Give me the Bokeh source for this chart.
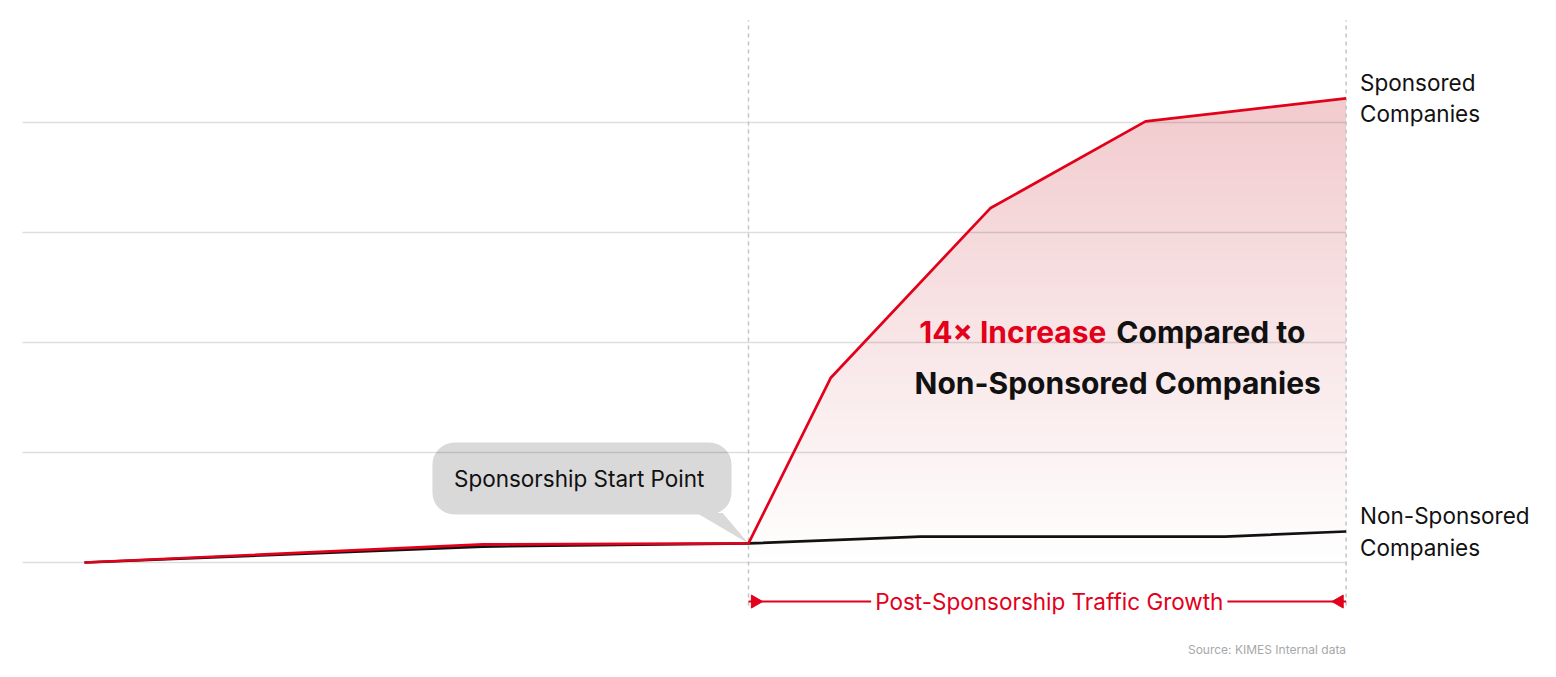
import numpy as np
from bokeh.plotting import figure
from bokeh.models import BoxAnnotation, Label
from bokeh.core.properties import value
from bokeh.embed import file_html
from bokeh.resources import INLINE

# ---- data (x: periods relative to sponsorship start, y: traffic index) ----
red_x = [-10, -4, 0, 1.24, 3.64, 5.98, 9]
red_y = [0, 16.4, 17.3, 168, 322, 401, 422]
black_x = [-10, -4, 0, 2.59, 7.18, 9]
black_y = [0, 14.5, 17.3, 23.6, 23.6, 28.2]
grid_vals = [0, 100, 200, 300, 400]

RED = "#e2001a"
BLACK = "#111111"
FONT = value("Inter")

PX = 66.4   # px per x unit
PY = 1.1    # px per y unit
W, H = 1550, 670
OX, OY = 0, 0   # page offset of the figure
x0 = (OX - 748) / PX
x1 = (OX + W - 748) / PX
y_top = (562 - OY) / PY
y_bot = -(OY + H - 562) / PY

p = figure(width=W, height=H, output_backend="svg", toolbar_location=None,
           x_range=(x0, x1), y_range=(y_bot, y_top),
           x_axis_type=None, y_axis_type=None, min_border=0)
p.outline_line_color = None
p.xgrid.visible = False
p.ygrid.visible = False
p.background_fill_color = "white"

# ---- gradient fill under sponsored line ----
N = 256
t = np.linspace(0.0, 1.0, N)
top = np.array([242, 203, 206])
cols = 255 - np.outer(t, 255 - top)
img = np.empty((N, 1), dtype=np.uint32)
view = img.view(dtype=np.uint8).reshape((N, 1, 4))
view[:, 0, 0] = cols[:, 0].astype(np.uint8)
view[:, 0, 1] = cols[:, 1].astype(np.uint8)
view[:, 0, 2] = cols[:, 2].astype(np.uint8)
view[:, 0, 3] = 255
p.image_rgba(image=[img], x=0, y=0, dw=red_x[-1], dh=max(red_y))
# mask above the red line
p.varea(x=red_x[2:], y1=red_y[2:], y2=y_top, fill_color="white")

# ---- speech bubble (behind grid lines) ----
p.add_layout(BoxAnnotation(left=-4.76, right=-0.256, top=109.1, bottom=43.6,
                           fill_color="#d9d9d9", fill_alpha=1, line_color=None,
                           border_radius=22, level="underlay"))
p.patch(x=[-0.78, -0.39, 0], y=[45, 45, red_y[2]], fill_color="#d9d9d9", line_color=None)

# ---- grid lines ----
gx0 = (22 - 748) / PX
p.segment(x0=[gx0] * len(grid_vals), y0=grid_vals, x1=[red_x[-1]] * len(grid_vals),
          y1=grid_vals, line_color="black", line_alpha=0.13, line_width=1.5)

# ---- dashed vertical markers ----
p.segment(x0=[0, red_x[-1]], y0=[-39, -39], x1=[0, red_x[-1]], y1=[493, 493],
          line_color="#c4c4c4", line_width=1.5, line_dash="4 4")

# ---- series lines ----
p.line(black_x, black_y, line_color=BLACK, line_width=2.7)
p.line(red_x, red_y, line_color=RED, line_width=2.7)

p.text(x=[-2.55], y=[76.4], text=["Sponsorship Start Point"], text_font=FONT,
       text_font_size="22.5px", text_color=BLACK, text_align="center", text_baseline="middle")

# ---- series labels ----
p.text(x=[red_x[-1]], y=[red_y[-1]], text=["Sponsored\nCompanies"], x_offset=14,
       text_font=FONT, text_font_size="22.5px", text_color=BLACK,
       text_align="left", text_baseline="middle", text_line_height=1.16)
p.text(x=[black_x[-1]], y=[black_y[-1]], text=["Non-Sponsored\nCompanies"], x_offset=14,
       text_font=FONT, text_font_size="22.5px", text_color=BLACK,
       text_align="left", text_baseline="middle", text_line_height=1.16)

# ---- headline ----
p.text(x=[5.39], y=[210], text=["14× Increase"], text_font=FONT, text_font_size="30px",
       text_font_style="bold", text_color=RED, text_align="right", text_baseline="middle")
p.text(x=[5.54], y=[210], text=["Compared to"], text_font=FONT, text_font_size="30px",
       text_font_style="bold", text_color=BLACK, text_align="left", text_baseline="middle")
p.text(x=[5.56], y=[163.6], text=["Non-Sponsored Companies"], text_font=FONT,
       text_font_size="30px", text_font_style="bold", text_color=BLACK,
       text_align="center", text_baseline="middle")

# ---- post-sponsorship span ----
ya = -35.5
p.segment(x0=[0], y0=[ya], x1=[red_x[-1]], y1=[ya], line_color=RED, line_width=2)
p.scatter(x=[0.1, red_x[-1] - 0.1], y=[ya, ya], marker="triangle", size=13,
          angle=[-np.pi / 2, np.pi / 2], fill_color=RED, line_color=RED)
p.add_layout(Label(x=red_x[-1] / 2 + 0.03, y=ya, text="Post-Sponsorship Traffic Growth",
                   text_font="Inter", text_font_size="22.5px", text_color=RED,
                   text_align="center", text_baseline="middle",
                   background_fill_color="white", background_fill_alpha=1,
                   padding=4))

# ---- source ----
p.text(x=[red_x[-1]], y=[-79], text=["Source: KIMES Internal data"], text_font=FONT,
       text_font_size="12px", text_color="#a8a8a8", text_align="right", text_baseline="middle")

open("out.html", "w").write(file_html(p, INLINE))
